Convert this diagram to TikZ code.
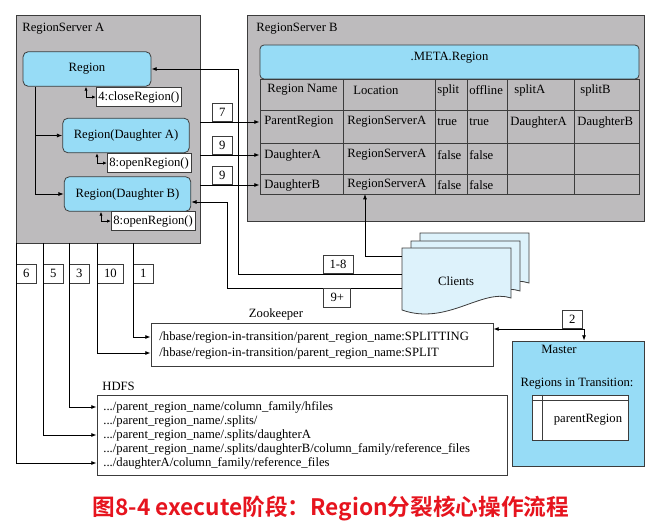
\documentclass[tikz,border=0pt]{standalone}
\usepackage{fontspec}
\setmainfont{Liberation Serif}
\newfontfamily\cjk{Noto Sans CJK SC}[BoldFont={Noto Sans CJK SC Bold}]
\usetikzlibrary{arrows.meta,fit,positioning}
\definecolor{srvgray}{RGB}{189,187,189}
\definecolor{regcyan}{RGB}{151,220,246}
\definecolor{clfill}{RGB}{221,242,251}
\definecolor{capred}{RGB}{230,20,30}
\definecolor{edge}{RGB}{60,60,60}

\begin{document}
\begin{tikzpicture}[x=0.75pt, y=-0.75pt, line width=.6pt,
>={Latex[length=4pt,width=3pt]},
every node/.style={font=\fontsize{9.5}{11}\selectfont},
server/.style={draw=edge, fill=srvgray, inner sep=0pt},
region/.style={draw=edge, fill=regcyan, rounded corners=4pt,
  minimum width=95pt, minimum height=26pt},
callbox/.style={draw=edge, fill=white, inner sep=1.5pt, minimum height=14.5pt,
  anchor=north west},
numbox/.style={draw=edge, fill=white, inner xsep=5pt, inner ysep=1pt,
  minimum width=15pt, minimum height=14pt},
cell/.style={anchor=west, inner sep=0pt},
plainbox/.style={draw=edge, fill=white, inner sep=0pt},
clientdoc/.pic={
  \draw[draw=edge, fill=clfill] (0,0) -- (109,0) -- (109,50)
    .. controls (80,40) and (45,78) .. (0,62) -- cycle;}
]
\useasboundingbox (0,0) rectangle (659,528);

% RegionServer A
\node[server, fit={(16,15) (200,243)}] (srvA) {};
\node[cell] (srvAname) at (22,29) {RegionServer A};
\node[region, minimum width=96pt] (reg) at (87,69) {Region};
\node[region] (dA) at (126,135.5) {Region(Daughter A)};
\node[region] (dB) at (127.5,194) {Region(Daughter B)};
\node[callbox] (cR) at (96,87) {4:closeRegion()};
\node[callbox] (cA) at (107,153) {8:openRegion()};
\node[callbox] (cB) at (111,211) {8:openRegion()};
\draw[<->, >={Latex[length=3pt,width=2.5pt]}] (cR.west) -| ([xshift=-7.5pt]cR.west |- reg.south);
\draw[<->, >={Latex[length=3pt,width=2.5pt]}] (cA.west) -| ([xshift=-7.5pt]cA.west |- dA.south);
\draw[<->, >={Latex[length=3pt,width=2.5pt]}] (cB.west) -| ([xshift=-7.5pt]cB.west |- dB.south);
\coordinate (trunk) at (35,86);
\draw[->] (trunk |- reg.south) |- (dB.west);
\draw[->] (trunk |- dA.west) -- (dA.west);

% RegionServer B
\node[server, fit={(247,15) (644,221)}] (srvB) {};
\node[cell] (srvBname) at (256,29) {RegionServer B};
\node[draw=edge, fill=regcyan, rounded corners=3pt, inner sep=0pt,
  fit={(260,45) (639,79)}] (meta) {.META.Region};
\node[draw=edge, inner sep=0pt, fit={(260,79) (639,194)}] (tbl) {};
\foreach \y in {110,143,174}
  \draw[draw=edge] (260,\y) -- (639,\y);
\foreach \x in {343,435,467,507,574}
  \draw[draw=edge] (\x,79) -- (\x,194);
\foreach \t/\x [count=\i] in {Region Name/267,Location/353,split/437,offline/469,splitA/514,splitB/580}
  \node[cell] (hd\i) at (\x,90) {\t};
\foreach \t/\x [count=\i] in {ParentRegion/264,RegionServerA/347,true/437,true/469,DaughterA/510,DaughterB/577}
  \node[cell] (ra\i) at (\x,122) {\t};
\foreach \t/\x [count=\i] in {DaughterA/264,RegionServerA/347,false/437,false/469}
  \node[cell] (rb\i) at (\x,155) {\t};
\foreach \t/\x [count=\i] in {DaughterB/264,RegionServerA/347,false/437,false/469}
  \node[cell] (rc\i) at (\x,185) {\t};

\draw[->] (srvA.east |- ra1) -- node[numbox, pos=.37, anchor=south] (b7) {7} (tbl.west |- ra1);
\draw[->] (srvA.east |- rb1) -- node[numbox, pos=.37, anchor=south] (b9a) {9} (tbl.west |- rb1);
\draw[->] (srvA.east |- rc1) -- node[numbox, pos=.37, anchor=south] (b9b) {9} (tbl.west |- rc1);

% Clients
\path (420,233) pic {clientdoc} (411,241) pic {clientdoc} (402,248) pic {clientdoc};
\node (cl) at (456,281) {Clients};
\coordinate (c1) at (402,256);
\coordinate (c2) at (402,274);
\coordinate (c3) at (402,288);
\coordinate (k1) at (238,69);
\coordinate (k2) at (227,202);
\coordinate (k3) at (365,194);
\draw[->] (c1) -| (k3);
\draw[->] (c2) -- node[numbox, pos=.39, anchor=south] (b18) {1-8} (k1 |- c2) -- (k1) -- (reg.east);
\draw[->] (c3) -- node[numbox, pos=.37, anchor=north] (b9p) {9+} (k2 |- c3) -- (k2) -- (dB.east |- k2);

% Zookeeper
\node[plainbox, fit={(151,323) (493,366)}] (zk) {};
\node (zkname) at (276,314) {Zookeeper};
\node[cell] (zk1) at (159,337) {/hbase/region-in-transition/parent\_region\_name:SPLITTING};
\node[cell] (zk2) at (159,353) {/hbase/region-in-transition/parent\_region\_name:SPLIT};

% HDFS
\node[plainbox, fit={(97,395) (507,475)}] (hdfs) {};
\node[cell] (hdfsname) at (102,386) {HDFS};
\node[cell] (h1) at (103,407) {.../parent\_region\_name/column\_family/hfiles};
\node[cell] (h2) at (103,421) {.../parent\_region\_name/.splits/};
\node[cell] (h3) at (103,435) {.../parent\_region\_name/.splits/daughterA};
\node[cell] (h4) at (103,449) {.../parent\_region\_name/.splits/daughterB/column\_family/reference\_files};
\node[cell] (h5) at (103,463) {.../daughterA/column\_family/reference\_files};

% Master
\node[draw=edge, fill=regcyan, inner sep=0pt, fit={(512,341) (644,466)}] (master) {};
\node (mname) at (559,349) {Master};
\node (rtname) at (577,384) {Regions in Transition:};
\node[plainbox, fit={(532,395) (628,440)}] (rit) {};
\draw[draw=edge] ([yshift=-4.5pt]rit.north west) -- ([yshift=-4.5pt]rit.north east);
\draw[draw=edge] ([xshift=8.25pt]rit.north west) -- ([xshift=8.25pt]rit.south west);
\node (ritrow) at (588,420) {parentRegion};
\coordinate (k4) at (584,329);
\draw[<->] (zk.east |- k4) -- node[numbox, pos=.87, anchor=south] (b2) {2} (k4) -- (k4 |- master.north);

% lanes out of RegionServer A
\foreach \n/\x in {6/16,5/43,3/69,10/97,1/133} {
  \coordinate (l\n) at (\x,243);
  \node[numbox, anchor=north west] (n\n) at (\x,264) {\n};
}
\draw[->] (l1) |- (zk.west |- zk1);
\draw[->] (l10) |- (zk.west |- zk2);
\draw[->] (l3) |- (hdfs.west |- h1);
\draw[->] (l5) |- (hdfs.west |- h3);
\draw[->] (l6) |- (hdfs.west |- h5);

\node[font=\cjk\bfseries\fontsize{17}{20}\selectfont, text=capred] (cap) at (331,508)
  {图8-4 execute阶段：Region分裂核心操作流程};
\end{tikzpicture}
\end{document}
